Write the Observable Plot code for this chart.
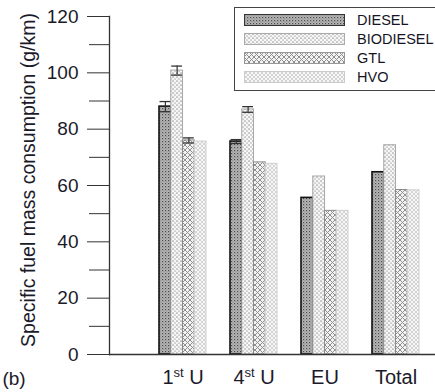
<!DOCTYPE html>
<html>
<head>
<meta charset="utf-8">
<script src="https://cdn.jsdelivr.net/npm/d3@7"></script>
<script src="https://cdn.jsdelivr.net/npm/@observablehq/plot@0.6"></script>
<style>
  body { margin: 0; background: #fff; }
  #chart { position: relative; width: 435px; height: 392px; overflow: hidden;
           font-family: Arial, "Liberation Sans", sans-serif; color: #1a1a2a; background: #fff; }
  #legend { position: absolute; left: 234px; top: 7px; width: 230px; height: 84px;
            border: 1.3px solid #444; box-sizing: border-box; background: #fff; }
  .row { position: absolute; left: 9px; height: 12px; display: flex; align-items: center; }
  .row svg { display: block; }
  .row span { margin-left: 12px; font-size: 14.5px; line-height: 12px; color: #151525; }
</style>
</head>
<body>
<div id="chart"></div>
<script>
// Test conditions and fuels
const categories = ["1st U", "4st U", "EU", "Total"];
const fuels = ["DIESEL", "BIODIESEL", "GTL", "HVO"];

// Specific fuel mass consumption (g/km) per test condition
const diesel    = [88.0, 75.6, 55.6, 64.7];
const biodiesel = [100.8, 87.0, 63.2, 74.3];
const gtl       = [76.0, 68.2, 51.0, 58.4];
const hvo       = [75.6, 67.7, 51.0, 58.3];

// Standard deviations (g/km)
const dieselErr    = [1.8, 0.7, 0, 0];
const biodieselErr = [1.6, 1.0, 0, 0];
const gtlErr       = [0.9, 0, 0, 0];
const hvoErr       = [0, 0, 0, 0];

const yMajorTicks = [0, 20, 40, 60, 80, 100, 120];
const yMinorTicks = [10, 30, 50, 70, 90, 110];

const series = [diesel, biodiesel, gtl, hvo];
const errors = [dieselErr, biodieselErr, gtlErr, hvoErr];
const rows = categories.flatMap((category, j) =>
  fuels.map((fuel, i) => ({category, fuel, value: series[i][j], err: errors[i][j]}))
);

// Bar styling per fuel: pattern fill + outline
const fills = fuels.map((f, i) => `url(#pat-${i})`);
const strokes = ["#111", "#a8a8a8", "#8a8a8a", "#cfcfcf"];
const strokeWidths = [1.6, 1, 1, 1];

// Band layout for the four test-condition groups
const W = 435, H = 392, mL = 109, mR = 0, mT = 16, mB = 38;
const padIn = 0.345, padOut = 0.446, align = 0.75;
const step = (W - mL - mR) / (categories.length - padIn + 2 * padOut);
const bw = step * (1 - padIn);
const sub = bw / fuels.length;

const marks = [];
fuels.forEach((fuel, i) => {
  const data = rows.filter(d => d.fuel === fuel);
  marks.push(Plot.barY(data, {
    x: "category", y: "value", fill: fills[i], stroke: strokes[i], strokeWidth: strokeWidths[i],
    insetLeft: i * sub, insetRight: (fuels.length - 1 - i) * sub
  }));
});
fuels.forEach((fuel, i) => {
  const data = rows.filter(d => d.fuel === fuel && d.err > 0);
  const dx = (i - (fuels.length - 1) / 2) * sub;
  marks.push(Plot.ruleX(data, {x: "category", y1: d => d.value - d.err, y2: d => d.value + d.err,
    dx, stroke: "#333", strokeWidth: 1.2}));
  for (const sign of [1, -1]) {
    marks.push(Plot.tickY(data, {x: "category", y: d => d.value + sign * d.err,
      insetLeft: i * sub + 0.5, insetRight: (fuels.length - 1 - i) * sub + 0.5,
      stroke: "#333", strokeWidth: 1.3}));
  }
});

const svg = Plot.plot({
  width: W, height: H,
  marginLeft: mL, marginRight: mR, marginTop: mT, marginBottom: mB,
  style: {fontFamily: "Arial, 'Liberation Sans', sans-serif", fontSize: "19px", color: "#1a1a2a", background: "#fff"},
  x: {domain: categories, paddingInner: padIn, paddingOuter: padOut, align, label: null},
  y: {domain: [0, 120], label: null},
  marks: [
    ...marks,
    Plot.ruleY([0], {stroke: "#333", strokeWidth: 1.3}),
    Plot.frame({anchor: "left", stroke: "#333", strokeWidth: 1.3}),
    Plot.axisY({ticks: yMajorTicks, tickSize: 22, tickPadding: 9, label: null, stroke: "#333", fontSize: 19}),
    Plot.axisY({ticks: yMinorTicks, tickSize: 20, tickFormat: () => "", label: null, stroke: "#333"}),
    Plot.axisX({tickSize: 0, tickPadding: 15, label: null, fontSize: 20})
  ]
});

const s = d3.select(svg);

// Hatch / dot patterns for the four fuels
const defs = s.insert("defs", ":first-child");
{
  const p = defs.append("pattern").attr("id", "pat-0").attr("patternUnits", "userSpaceOnUse")
    .attr("width", 3).attr("height", 3);
  p.append("rect").attr("width", 3).attr("height", 3).attr("fill", "#b8b8b8");
  p.append("rect").attr("width", 1.2).attr("height", 1.2).attr("fill", "#4a4a4a");
  p.append("rect").attr("x", 1.5).attr("y", 1.5).attr("width", 1).attr("height", 1).attr("fill", "#707070");
}
{
  const p = defs.append("pattern").attr("id", "pat-1").attr("patternUnits", "userSpaceOnUse")
    .attr("width", 4).attr("height", 4);
  p.append("rect").attr("width", 4).attr("height", 4).attr("fill", "#f6f6f6");
  p.append("circle").attr("cx", 1).attr("cy", 1).attr("r", 0.85).attr("fill", "#a0a0a0");
  p.append("circle").attr("cx", 3).attr("cy", 3).attr("r", 0.85).attr("fill", "#b4b4b4");
}
{
  const p = defs.append("pattern").attr("id", "pat-2").attr("patternUnits", "userSpaceOnUse")
    .attr("width", 5).attr("height", 5);
  p.append("rect").attr("width", 5).attr("height", 5).attr("fill", "#f2f2f2");
  p.append("path").attr("d", "M0,0L5,5M5,0L0,5").attr("stroke", "#909090").attr("stroke-width", 1);
}
{
  const p = defs.append("pattern").attr("id", "pat-3").attr("patternUnits", "userSpaceOnUse")
    .attr("width", 4).attr("height", 4);
  p.append("rect").attr("width", 4).attr("height", 4).attr("fill", "#f7f7f7");
  p.append("path").attr("d", "M0,0L4,4M4,0L0,4").attr("stroke", "#cacaca").attr("stroke-width", 0.8);
}

// Ordinal superscripts on the condition labels
s.selectAll('g[aria-label="x-axis tick label"] text').each(function () {
  const m = this.textContent.match(/^(\d)(st) (.*)$/);
  if (!m) return;
  const t = d3.select(this);
  t.text(null);
  t.append("tspan").text(m[1]);
  t.append("tspan").attr("font-size", "13px").attr("dy", "-7px").text(m[2]);
  t.append("tspan").attr("dy", "7px").text("\u00a0" + m[3]);
});

// Y axis title
s.append("text")
  .attr("transform", "translate(35,180) rotate(-90)")
  .attr("text-anchor", "middle")
  .attr("font-size", "19.5px")
  .attr("fill", "#1a1a2a")
  .text("Specific fuel mass consumption (g/km)");

// Panel tag
s.append("text").attr("x", 14).attr("y", 385).attr("font-size", "19px").attr("fill", "#1a1a2a").text("(b)");

const chart = document.getElementById("chart");
chart.appendChild(svg);

// Legend box
const legend = d3.select(chart).append("div").attr("id", "legend");
const swStroke = ["#333", "#aaa", "#999", "#ccc"];
fuels.forEach((fuel, i) => {
  const row = legend.append("div").attr("class", "row").style("top", `${5.5 + i * 19}px`);
  const sw = row.append("svg").attr("width", 101).attr("height", 12);
  sw.append("rect").attr("x", 0.5).attr("y", 0.5).attr("width", 100).attr("height", 11)
    .attr("fill", fills[i]).attr("stroke", swStroke[i]).attr("stroke-width", 1);
  row.append("span").text(fuel);
});
</script>
</body>
</html>
